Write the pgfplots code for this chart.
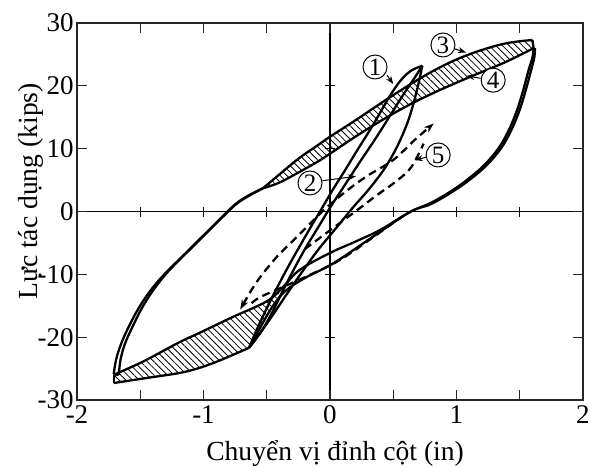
\documentclass[border=0pt]{standalone}
\usepackage{fontspec}
\setmainfont{Liberation Serif}
\newfontfamily\tnr{Liberation Serif}
\usepackage{pgfplots}
\pgfplotsset{compat=1.18}
\usetikzlibrary{patterns.meta,arrows.meta}
\begin{document}
\begin{tikzpicture}
\pgfplotsset{
  base/.style={
    width=253pt, height=188.5pt, scale only axis,
    xmin=-2, xmax=2, ymin=-30, ymax=30, enlargelimits=false,
    at={(0,0)}, anchor=south west,
  }
}
% zero lines with centred ticks
\begin{axis}[base,
  axis lines=middle, axis line style={-, line width=0.6pt, black},
  xtick={-1.5,-1,-0.5,0.5,1,1.5}, ytick={-20,-10,10,20},
  xticklabels={}, yticklabels={},
  tick align=center, major tick length=5pt,
  tick style={line width=0.6pt, black},
]
\end{axis}
\begin{axis}[base,
  axis line style={line width=0.8pt, black!85},
  xtick={-2,-1,0,1,2}, minor xtick={-1.5,-0.5,0.5,1.5},
  xticklabels={-2,-1,0,1,2},
  ytick={-30,-20,-10,0,10,20,30},
  yticklabels={-30,-20,-10,0,10,20,30},
  tick align=inside, major tick length=5pt, minor tick length=5pt,
  tick style={line width=0.6pt, black!85},
  xticklabel style={font=\tnr\fontsize{13.5}{15}\selectfont, inner ysep=2.5pt},
  yticklabel style={font=\tnr\fontsize{13.5}{15}\selectfont, inner xsep=1.5pt},
  xlabel={Chuyển vị đỉnh cột (in)},
  ylabel={Lực tác dụng (kips)},
  xlabel style={font=\tnr\fontsize{13.8}{16}\selectfont, at={(axis description cs:0.51,-0.161)}, anchor=base},
  ylabel style={font=\tnr\fontsize{13.8}{16}\selectfont, at={(axis description cs:-0.079,0.553)}, anchor=base, rotate=0},
  clip=false,
]
% ---- upper hatched band
\addplot[draw=none, pattern={Lines[angle=-45,distance=2.35pt,line width=0.4pt]}] coordinates {
(-0.53,3.7) (-0.4,5.9) (-0.25,8.4) (-0.1,10.5) (0,11.9) (0.2,14.5) (0.4,17.2) (0.6,19.8) (0.8,22.2) (1.0,24.2) (1.2,25.7) (1.4,26.8) (1.6,27.3)
(1.61,26.0) (1.4,23.9) (1.2,22.2) (1.0,20.5) (0.8,18.7) (0.6,16.7) (0.4,14.4) (0.2,11.9) (0,9.2) (-0.1,7.9) (-0.25,6.2) (-0.4,4.6) (-0.53,3.7)};
% ---- lower hatched band
\addplot[draw=none, pattern={Lines[angle=-45,distance=2.35pt,line width=0.4pt]}] coordinates {
(-0.64,-21.7) (-0.8,-23.1) (-0.92,-24.1) (-1.05,-25.0) (-1.19,-25.7) (-1.45,-26.5) (-1.71,-27.3)
(-1.71,-26.0) (-1.62,-25.2) (-1.45,-23.6) (-1.19,-20.8) (-1.03,-19.3) (-0.77,-16.8) (-0.5,-14.3) (-0.4,-12.9)
(-0.45,-15.0) (-0.55,-18.4) (-0.64,-21.7)};
\pgfplotsset{crv/.style={black, line width=1.15pt, line join=round, no marks}}
% upper band boundaries
\addplot[crv, smooth, tension=0.6] coordinates {
(-0.53,3.7) (-0.4,5.9) (-0.25,8.4) (-0.1,10.5) (0,11.9) (0.2,14.5) (0.4,17.2) (0.6,19.8) (0.8,22.2) (1.0,24.2) (1.2,25.7) (1.4,26.8) (1.6,27.3)};
\addplot[crv] coordinates {(1.6,27.3) (1.61,26.0)};
\addplot[crv, smooth, tension=0.6] coordinates {
(1.61,26.0) (1.4,23.9) (1.2,22.2) (1.0,20.5) (0.8,18.7) (0.6,16.7) (0.4,14.4) (0.2,11.9) (0,9.2) (-0.1,7.9) (-0.25,6.2) (-0.4,4.6) (-0.53,3.7)};
% outer loop, left branch (double)
\addplot[crv, smooth, tension=0.6] coordinates {
(-1.71,-25.9) (-1.69,-23.5) (-1.65,-21.0) (-1.59,-18.3) (-1.51,-15.3) (-1.42,-12.6) (-1.31,-10.0) (-1.19,-7.6) (-1.07,-5.2) (-0.95,-2.8) (-0.84,-0.6) (-0.74,1.3) (-0.64,2.6) (-0.53,3.7)};
\addplot[crv, smooth, tension=0.6] coordinates {
(-1.67,-26.0) (-1.655,-23.5) (-1.62,-21.0) (-1.56,-18.3) (-1.485,-15.3) (-1.40,-12.6) (-1.30,-10.0) (-1.19,-7.7) (-1.07,-5.3) (-0.95,-2.9) (-0.84,-0.7) (-0.74,1.2) (-0.64,2.5) (-0.53,3.7)};
\addplot[crv] coordinates {(-1.71,-25.9) (-1.67,-26.0)};
% outer loop, unloading branches
\addplot[crv, smooth, tension=0.6] coordinates {
(1.61,26.0) (1.60,24.5) (1.57,22.5) (1.53,19.5) (1.48,16.2) (1.41,12.8) (1.33,10.0) (1.22,7.4) (1.1,5.3) (0.97,3.4) (0.8,1.4) (0.63,-0.1) (0.4,-2.9) (0.2,-4.8) (0,-6.6) (-0.24,-9.3) (-0.37,-12.0) (-0.5,-14.3) (-0.77,-16.8) (-1.03,-19.3) (-1.19,-20.8) (-1.45,-23.6) (-1.62,-25.2) (-1.71,-26.0)};
\addplot[crv, smooth, tension=0.6] coordinates {
(1.62,26.0) (1.615,24.5) (1.59,22.5) (1.55,19.5) (1.50,16.2) (1.43,12.8) (1.35,10.0) (1.24,7.4) (1.12,5.3) (0.98,3.3) (0.8,1.2) (0.63,-0.1) (0.34,-4.0) (0.03,-8.2) (-0.2,-10.6) (-0.35,-12.6) (-0.45,-15.0) (-0.55,-18.4) (-0.64,-21.7)};
% lower band lower boundary
\addplot[crv, smooth, tension=0.6] coordinates {
(-0.64,-21.7) (-0.8,-23.1) (-0.92,-24.1) (-1.05,-25.0) (-1.19,-25.7) (-1.45,-26.5) (-1.71,-27.3)};
\addplot[crv] coordinates {(-1.71,-27.3) (-1.71,-26.0)};
% inner loops
\addplot[crv, smooth, tension=0.6] coordinates {
(-0.64,-21.7) (-0.57,-18.4) (-0.49,-15.0) (-0.41,-11.8) (-0.32,-8.4) (-0.23,-5.2) (-0.15,-2.4) (-0.07,0.3) (0.02,3.4) (0.12,6.6) (0.22,9.9) (0.32,13.1) (0.41,16.2) (0.48,18.6) (0.56,20.9) (0.64,22.4) (0.73,23.2)};
\addplot[crv, smooth, tension=0.6] coordinates {
(-0.64,-21.7) (-0.54,-19.0) (-0.45,-15.8) (-0.37,-12.5) (-0.28,-9.0) (-0.19,-5.7) (-0.09,-2.4) (0.0,0.6) (0.12,4.3) (0.24,8.0) (0.36,11.6) (0.47,15.1) (0.57,18.3) (0.66,21.0) (0.73,23.2)};
\addplot[crv, smooth, tension=0.6] coordinates {
(0.73,23.2) (0.70,20.4) (0.66,17.2) (0.61,14.0) (0.53,10.3) (0.43,6.8) (0.31,3.6) (0.18,0.6) (0.05,-2.6) (-0.09,-6.0) (-0.22,-9.6) (-0.35,-13.4) (-0.47,-17.0) (-0.57,-19.8) (-0.64,-21.7)};
% dashed loop
\addplot[crv, smooth, tension=0.6, dash pattern=on 4pt off 2.5pt, {Stealth[length=5pt,width=3.5pt]}-{Stealth[length=5pt,width=3.5pt]}] coordinates {
(-0.71,-15.6) (-0.63,-12.8) (-0.55,-10.4) (-0.42,-7.2) (-0.32,-5.2) (-0.2,-2.8) (-0.05,0.2) (0.12,3.1) (0.29,5.6) (0.5,8.2) (0.67,11.4) (0.82,14.0)};
\addplot[crv, smooth, tension=0.6, dash pattern=on 4pt off 2.5pt] coordinates {
(-0.62,-14.6) (-0.55,-13.6) (-0.37,-12.0) (-0.16,-10.1) (0.08,-7.7) (0.34,-4.1) (0.5,-1.8) (0.58,-0.7)};
\addplot[crv, smooth, tension=0.6, dash pattern=on 4pt off 2.5pt] coordinates {
(-0.2,-6.0) (0,-3.0) (0.24,0.6) (0.37,2.6) (0.51,4.6) (0.64,7.0) (0.74,10.8)};
% annotations
\tikzset{num/.style={circle, draw, line width=0.5pt, inner sep=0pt, minimum size=12pt, fill=white, font=\tnr\fontsize{12.5}{12.5}\selectfont},
         arr/.style={line width=0.5pt, -{Stealth[length=4pt,width=3pt]}}}
\draw[arr] (axis cs:0.45,21.7) -- (axis cs:0.50,20.3);
\draw[arr] (axis cs:-0.06,4.9) -- (axis cs:0.205,5.6);
\draw[arr] (axis cs:0.97,26.0) -- (axis cs:1.075,25.3);
\draw[arr] (axis cs:1.19,21.2) -- (axis cs:1.08,21.6);
\draw[arr] (axis cs:0.775,8.7) -- (axis cs:0.67,8.2);
\node[num] at (axis cs:0.356,23.0) {1};
\node[num] at (axis cs:-0.158,4.54) {2};
\node[num] at (axis cs:0.893,26.5) {3};
\node[num] at (axis cs:1.29,20.9) {4};
\node[num] at (axis cs:0.855,9.0) {5};
\end{axis}
\pgfresetboundingbox
\path[use as bounding box] (-38.5pt,-33.5pt) rectangle (257pt,200pt);
\end{tikzpicture}
\end{document}
